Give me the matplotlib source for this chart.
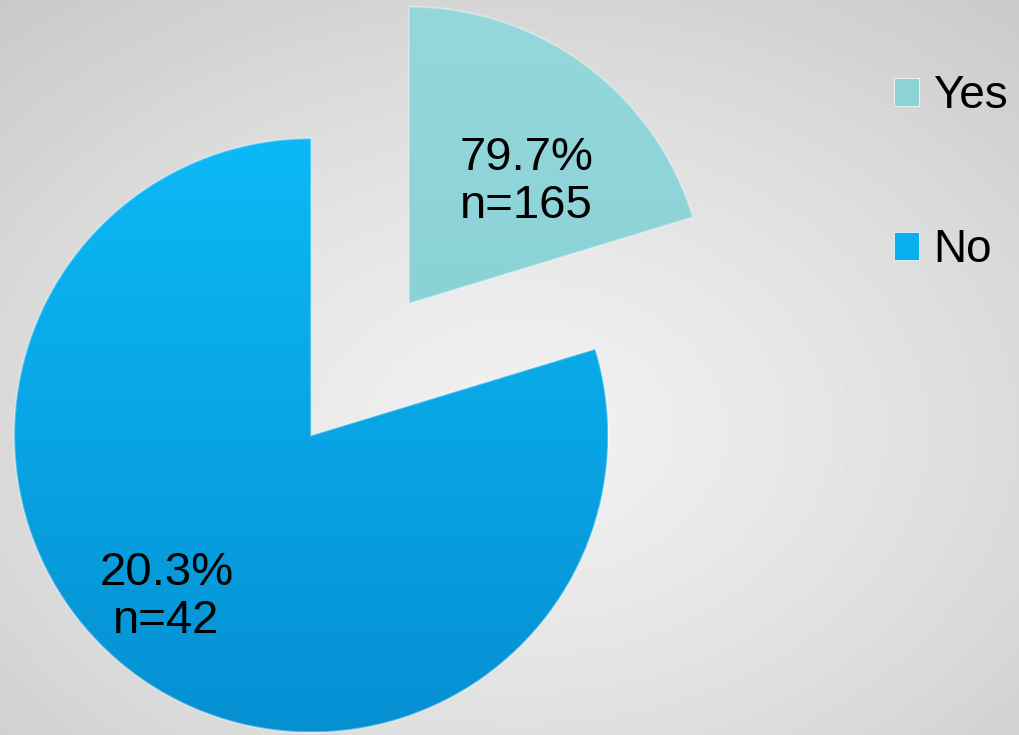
#!/usr/bin/env python3
"""Exploded two-slice pie chart: Yes / No responses."""

import matplotlib.pyplot as plt
import numpy as np

# Data
categories = ["Yes", "No"]
slice_sizes = [20.3, 79.7]          # share of the circle each slice occupies as drawn
label_pct = [79.7, 20.3]            # percentages printed in the slices
label_n = [165, 42]                 # counts printed in the slices

colors_top = ["#95D8DC", "#0CB9F6"]
colors_bottom = ["#80CCD0", "#0590D2"]
legend_colors = ["#8DD3D6", "#08AEEE"]

W, H = 1019, 735
RADIUS = 297


def main():
    plt.rcParams["font.family"] = ["Liberation Sans", "DejaVu Sans"]
    fig = plt.figure(figsize=(W / 100, H / 100), dpi=100)

    # radial grey background
    bg = fig.add_axes([0, 0, 1, 1])
    yy, xx = np.mgrid[0:H, 0:W]
    d = np.hypot((xx - 520) / W, (yy - 430) / H)
    shade = 0.945 - 0.22 * d ** 1.3
    bg.imshow(shade, cmap="gray", vmin=0, vmax=1, extent=(0, W, H, 0), aspect="auto")
    bg.axis("off")

    ax = fig.add_axes([0, 0, 1, 1])
    ax.patch.set_alpha(0)
    labels = [f"{p:.1f}%\nn={n}" for p, n in zip(label_pct, label_n)]
    # explode is in data units here (pixels), not a fraction of the radius
    wedges, texts = ax.pie(
        slice_sizes, labels=labels, colors=legend_colors, startangle=90,
        counterclock=False, explode=[0.276 * RADIUS] * 2, center=(360, 365.5),
        radius=RADIUS, labeldistance=0.6,
        textprops=dict(fontsize=34, color="black", ha="center", va="center"),
        wedgeprops=dict(linewidth=0),
    )
    ax.set_xlim(0, W)
    ax.set_ylim(0, H)
    ax.set_aspect("auto")

    # vertical gradient fill inside each wedge
    for w, ct, cb in zip(wedges, colors_top, colors_bottom):
        cx, cy = w.center
        r = w.r
        c1 = np.array(plt.matplotlib.colors.to_rgb(ct))
        c2 = np.array(plt.matplotlib.colors.to_rgb(cb))
        t = np.linspace(0, 1, 256)[:, None, None]
        grad = c1 * (1 - t) + c2 * t
        grad = np.repeat(grad, 2, axis=1)
        im = ax.imshow(grad, extent=(cx - r, cx + r, cy - r, cy + r),
                       origin="upper", aspect="auto", zorder=1.5)
        im.set_clip_path(w)
        w.set_edgecolor((1, 1, 1, 0.35))
        w.set_linewidth(1.5)
        w.set_zorder(1.6)
        w.set_facecolor("none")

    # nudge slice labels to match the reference
    label_r = [0.57, 0.73]
    label_shift = [-7.5, -5.3]
    for w, txt, lr, sh in zip(wedges, texts, label_r, label_shift):
        a = np.deg2rad((w.theta1 + w.theta2) / 2 + sh)
        cx, cy = w.center
        txt.set_position((cx + w.r * lr * np.cos(a), cy + w.r * lr * np.sin(a)))
        txt.set_zorder(3)
        txt.set_linespacing(1.1)

    handles = [plt.Rectangle((0, 0), 1, 1, facecolor=c, edgecolor="white", linewidth=0.5)
               for c in legend_colors]
    ax.legend(handles, categories, loc="upper left", bbox_to_anchor=(894 / W, 1 - 74 / H),
              frameon=False, fontsize=33, handlelength=0.55, handleheight=0.55,
              handletextpad=0.3, labelspacing=2.4, borderpad=0, borderaxespad=0)

    fig.savefig("out.png", dpi=100)
    plt.close(fig)


if __name__ == "__main__":
    main()
